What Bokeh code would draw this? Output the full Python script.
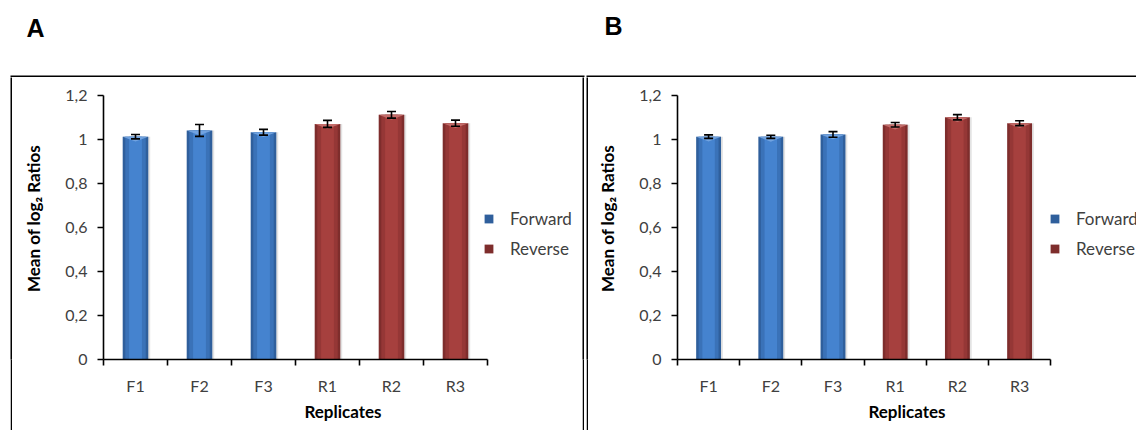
from bokeh.plotting import figure
from bokeh.layouts import row, column
from bokeh.models import (ColumnDataSource, FixedTicker, CustomJSTickFormatter, Whisker, TeeHead,
                          Label, Legend, LegendItem, Range1d, Spacer)
from bokeh.embed import file_html
from bokeh.resources import INLINE

# Replicates and their mean log2 ratios (with standard errors) for both experiments
replicates = ["F1", "F2", "F3", "R1", "R2", "R3"]
groups = ["Forward", "Forward", "Forward", "Reverse", "Reverse", "Reverse"]
mean_a = [1.013, 1.041, 1.033, 1.071, 1.112, 1.074]
err_a = [0.010, 0.027, 0.013, 0.016, 0.015, 0.014]
mean_b = [1.013, 1.012, 1.023, 1.067, 1.101, 1.074]
err_b = [0.008, 0.007, 0.013, 0.010, 0.012, 0.011]
y_ticks = [0, 0.2, 0.4, 0.6, 0.8, 1.0, 1.2]

FONT = "Lato"
TEXT_GREY = "#404040"
# edge, body, highlight and bevel shades per group
SHADES = {
    "Forward": ("#2f5f9c", "#3a72b8", "#4583cf", "#79a9e4"),
    "Reverse": ("#7e2d2c", "#953736", "#a6403e", "#c97472"),
}
TOP_H = 77      # height of the strip holding the panel letters
CHART_H = 353   # height of the chart row
BOTTOM = 71     # space under each plot frame for the x axis


def blank(width, height, x_end, y_start, y_end, fill="white"):
    p = figure(width=width, height=height, output_backend="svg", toolbar_location=None,
               x_range=Range1d(0, x_end), y_range=Range1d(y_start, y_end),
               x_axis_type=None, y_axis_type=None,
               min_border_left=0, min_border_right=0, min_border_top=0, min_border_bottom=0)
    p.outline_line_color = None
    p.xgrid.visible = False
    p.ygrid.visible = False
    p.background_fill_color = fill
    p.border_fill_color = fill
    return p


def rule():
    """A 2px black vertical rule forming a side of a panel frame."""
    return blank(2, CHART_H, 1, 0, 1, fill="black")


def make_chart(means, errs, width, left, cat_px, legend_x):
    frame_w = width - left
    frame_h = CHART_H - BOTTOM
    p = figure(width=width, height=CHART_H, output_backend="svg", toolbar_location=None,
               x_range=Range1d(0, frame_w / cat_px), y_range=Range1d(0, frame_h / 220),
               min_border_left=left, min_border_right=0, min_border_top=0,
               min_border_bottom=BOTTOM)
    p.outline_line_color = None
    p.xgrid.visible = False
    p.ygrid.visible = False

    xs = [i + 0.5 for i in range(len(replicates))]
    src = ColumnDataSource(dict(
        x=xs, top=means, upper=[m + e for m, e in zip(means, errs)],
        lower=[m - e for m, e in zip(means, errs)],
        shadow_x=[x + 0.03 for x in xs],
        edge=[SHADES[g][0] for g in groups], mid=[SHADES[g][1] for g in groups],
        core=[SHADES[g][2] for g in groups],
    ))

    # soft drop shadow, then bar body in three shades for a rounded look
    p.vbar(x="shadow_x", top="top", width=0.4, source=src, fill_color="#808080",
           fill_alpha=0.22, line_color=None)
    base = p.vbar(x="x", top="top", width=0.4, source=src, fill_color="edge", line_color=None)
    p.vbar(x="x", top="top", width=0.32, source=src, fill_color="mid", line_color=None)
    p.vbar(x="x", top="top", width=0.2, source=src, fill_color="core", line_color=None)

    # bevelled top edge of each bar
    bevel = ColumnDataSource(dict(
        xs=[[x - 0.2, x + 0.2, x] for x in xs],
        ys=[[m, m, m - 0.022] for m in means],
        color=[SHADES[g][3] for g in groups],
    ))
    p.patches(xs="xs", ys="ys", source=bevel, fill_color="color", fill_alpha=0.85,
              line_color=None)

    whisk = Whisker(base="x", upper="upper", lower="lower", source=src, line_width=1.6,
                    line_color="black", level="annotation",
                    upper_head=TeeHead(size=9, line_width=1.6, line_color="black"),
                    lower_head=TeeHead(size=9, line_width=1.6, line_color="black"))
    p.add_layout(whisk)

    xa = p.xaxis[0]
    xa.bounds = (0, len(replicates))
    xa.ticker = FixedTicker(ticks=xs, minor_ticks=list(range(len(replicates) + 1)))
    xa.formatter = CustomJSTickFormatter(args=dict(labels=replicates),
                                         code="return labels[Math.floor(tick)];")
    xa.major_tick_out = 0
    xa.major_tick_in = 0
    xa.minor_tick_out = 6
    xa.minor_tick_in = 0
    xa.minor_tick_line_width = 1.6
    xa.axis_line_width = 1.6
    xa.major_label_standoff = 10
    xa.axis_label = "Replicates"
    xa.axis_label_standoff = 3

    ya = p.yaxis[0]
    ya.bounds = (0, 1.2)
    ya.ticker = FixedTicker(ticks=y_ticks, minor_ticks=[])
    ya.formatter = CustomJSTickFormatter(
        code="return (Math.round(tick * 10) / 10).toString().replace('.', ',');")
    ya.major_tick_out = 6
    ya.major_tick_in = 0
    ya.major_tick_line_width = 1.6
    ya.axis_line_width = 1.6
    ya.major_label_standoff = 10
    ya.axis_label = "Mean of log\u2082 Ratios"
    ya.axis_label_standoff = 18

    for ax in (xa, ya):
        ax.axis_line_color = "black"
        ax.major_tick_line_color = "black"
        ax.minor_tick_line_color = "black"
        ax.major_label_text_font = FONT
        ax.major_label_text_font_size = "16px"
        ax.major_label_text_color = TEXT_GREY
        ax.axis_label_text_font = FONT
        ax.axis_label_text_font_size = "17px"
        ax.axis_label_text_font_style = "bold"
        ax.axis_label_text_color = "black"

    legend = Legend(items=[LegendItem(label="Forward", renderers=[base], index=0),
                           LegendItem(label="Reverse", renderers=[base], index=3)],
                    location=(legend_x, 100), glyph_width=11, glyph_height=11,
                    label_standoff=16, spacing=9, padding=0, margin=0,
                    border_line_alpha=0, background_fill_alpha=0,
                    label_text_font=FONT, label_text_font_size="17px",
                    label_text_color=TEXT_GREY, label_height=11)
    p.add_layout(legend)
    return p


# strip above the charts: panel letters and the top edges of the panel frames
top = blank(1136, TOP_H, 1136, TOP_H, 0)
top.quad(left=[10, 586], right=[584, 1136], top=[75, 75], bottom=[TOP_H, TOP_H],
         fill_color="black", line_color=None)
for letter, lx, ly in (("A", 26, 27), ("B", 604, 25)):
    top.add_layout(Label(x=lx, y=ly, text=letter, text_font="Liberation Sans",
                         text_font_style="bold", text_font_size="25px",
                         text_baseline="middle", text_color="black"))

chart_a = make_chart(mean_a, err_a, width=570, left=91, cat_px=64, legend_x=380)
chart_b = make_chart(mean_b, err_b, width=548, left=89, cat_px=62.2, legend_x=372)

charts = row(Spacer(width=10, height=CHART_H), rule(), chart_a, rule(),
             Spacer(width=2, height=CHART_H), rule(), chart_b)
layout = column(top, charts)
open("out.html", "w").write(file_html(layout, INLINE))
